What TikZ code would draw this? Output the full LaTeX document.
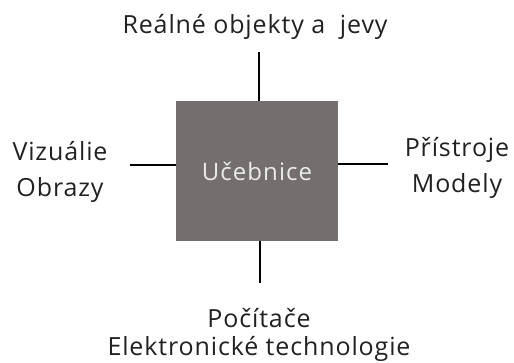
\documentclass[tikz,border=0pt]{standalone}
\usepackage{fontspec}
\setmainfont{Open Sans}[LetterSpace=3.5]
\newfontfamily\boxfont{Open Sans}[LetterSpace=4.5]
\begin{document}
\begin{tikzpicture}[x=1pt,y=1pt,
  lbl/.style={text=black!87, font=\fontsize{25}{28}\selectfont, inner sep=0pt, align=center},
  conn/.style={line width=2pt, black}]
\useasboundingbox (0,0) rectangle (514,362);
\node[fill={rgb,255:red,116;green,111;blue,109}, minimum width=162pt, minimum height=140pt, inner sep=0pt] (box) at (257,191) {};
\node[text={rgb,255:red,235;green,235;blue,235}, font=\boxfont\fontsize{24}{28}\selectfont, anchor=base, inner sep=0pt] (uc) at (257,182) {Učebnice};
\node[lbl, anchor=base] (top) at (255,328) {Reálné objekty a~ jevy};
\node[lbl, anchor=base] (left) at (60,166) {Vizuálie\\[7pt]Obrazy};
\node[lbl, anchor=base] (right) at (457,170) {Přístroje\\[7pt]Modely};
\node[lbl, anchor=base] (bottom) at (259,7) {Počítače\\Elektronické technologie};
\coordinate (tA) at (259,310);
\coordinate (bA) at (260,79);
\coordinate (lA) at (130,197);
\coordinate (rA) at (388,198);
\draw[conn] (box.north -| tA) -- (tA);
\draw[conn] (box.south -| bA) -- (bA);
\draw[conn] (box.west |- lA) -- (lA);
\draw[conn] (box.east |- rA) -- (rA);
\end{tikzpicture}
\end{document}
